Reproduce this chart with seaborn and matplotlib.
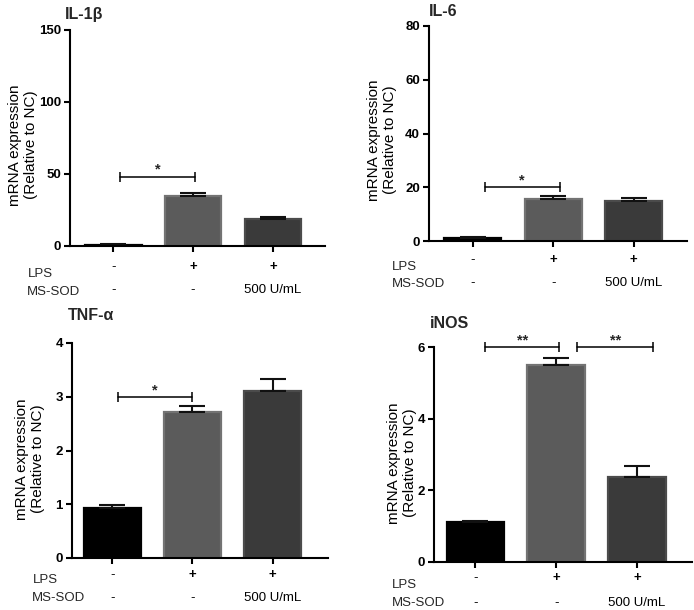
import matplotlib
matplotlib.use("Agg")
import matplotlib.pyplot as plt
import seaborn as sns
import pandas as pd
import numpy as np

sns.set_theme(style="ticks")
plt.rcParams['font.family'] = ['Liberation Sans', 'DejaVu Sans']

groups = ["NC", "LPS", "LPS+MS-SOD"]
lps_row = ["-", "+", "+"]
sod_row = ["-", "-", "500 U/mL"]

il1b_mean = [1.0, 34.7, 18.7]
il1b_err = [0.3, 2.3, 1.6]
il6_mean = [1.2, 15.6, 14.9]
il6_err = [0.2, 1.1, 1.2]
tnf_mean = [0.93, 2.72, 3.11]
tnf_err = [0.05, 0.10, 0.22]
inos_mean = [1.12, 5.51, 2.38]
inos_err = [0.03, 0.19, 0.30]

titles = ["IL-1β", "IL-6", "TNF-α", "iNOS"]
ymax = [150, 80, 4, 6]
ystep = [50, 20, 1, 2]

# significance brackets: (panel, x_start, x_end, y, label)
brackets = [
    (0, 0.09, 1.02, 48, "*"),
    (1, 0.15, 1.08, 20, "*"),
    (2, 0.07, 0.99, 2.99, "*"),
    (3, 0.12, 1.04, 6.0, "**"),
    (3, 1.26, 2.20, 6.0, "**"),
]

fills = ["#000000", "#5b5b5b", "#3a3a3a"]
edges = ["#000000", "#737373", "#4b4b4b"]

W, H = 694, 610
fig = plt.figure(figsize=(W / 100, H / 100), dpi=100)

# axes rectangles in pixels: left, top, right, bottom
rects = [(70, 30, 325, 246), (429, 26, 687, 241), (72, 343, 328, 558), (434, 347, 692, 562)]
xlims = [(-0.54, 2.65), (-0.54, 2.66), (-0.5, 2.69), (-0.51, 2.68)]
ylab_x = [-0.125, -0.124, -0.105, -0.066]
ylab_y = [0.468, 0.47, 0.46, 0.46]
row_off = [(-21, -44), (-19, -42), (-17, -40), (-16, -41)]
lab_pos = [((28, 274), (27, 292)), ((392, 267), (392, 284)), ((33, 580), (32, 598)), ((392, 585), (392, 603))]
title_pos = [(65, 15), (429, 11), (68, 315), (430, 323)]

means = [il1b_mean, il6_mean, tnf_mean, inos_mean]
errs = [il1b_err, il6_err, tnf_err, inos_err]

axes = []
for i in range(4):
    l, t, r, b = rects[i]
    ax = fig.add_axes([l / W, 1 - b / H, (r - l) / W, (b - t) / H])
    axes.append(ax)
    df = pd.DataFrame({"group": groups, "value": means[i]})
    sns.barplot(data=df, x="group", y="value", hue="group", palette=fills,
                order=groups, hue_order=groups, errorbar=None, width=0.71,
                legend=False, ax=ax, saturation=1)
    for p, ec in zip(ax.patches, edges):
        p.set_edgecolor(ec)
        p.set_linewidth(1.6)
    xs = np.arange(len(groups))
    ax.errorbar(xs, means[i], yerr=[np.zeros(3), errs[i]], fmt="none",
                ecolor="#111111", elinewidth=1.5, capsize=9.5, capthick=1.5, zorder=1)
    ax.set_xlim(*xlims[i])
    ax.set_ylim(0, ymax[i])
    ax.set_yticks(np.arange(0, ymax[i] + ystep[i] / 2, ystep[i]))
    ax.set_xticks(xs)
    ax.set_xticklabels([])
    ax.set_xlabel("")
    ax.set_ylabel("mRNA expression\n(Relative to NC)", fontsize=11, color="black")
    ax.yaxis.set_label_coords(ylab_x[i], ylab_y[i])
    sns.despine(ax=ax)
    for s in ["left", "bottom"]:
        ax.spines[s].set_linewidth(1.5)
        ax.spines[s].set_color("black")
    ax.tick_params(axis="both", width=1.5, length=4.5, color="black", direction="out")
    ax.tick_params(axis="y", labelsize=9.5, pad=2)
    for lbl in ax.get_yticklabels():
        lbl.set_fontweight("bold")
        lbl.set_color("black")
    ax.set_facecolor("white")
    for j in range(3):
        ax.annotate(lps_row[j], xy=(j, 0), xycoords=("data", "axes fraction"),
                    xytext=(0, row_off[i][0]), textcoords="offset pixels",
                    ha="center", va="center", fontsize=9.5, color="black",
                    fontweight="bold" if lps_row[j] == "+" else "normal")
        ax.annotate(sod_row[j], xy=(j, 0), xycoords=("data", "axes fraction"),
                    xytext=(0, row_off[i][1]), textcoords="offset pixels",
                    ha="center", va="center", fontsize=9.5, color="black")
    (lx1, ly1), (lx2, ly2) = lab_pos[i]
    fig.text(lx1 / W, 1 - ly1 / H, "LPS", fontsize=9.5, ha="left", va="center")
    fig.text(lx2 / W, 1 - ly2 / H, "MS-SOD", fontsize=9.5, ha="left", va="center")
    tx, ty = title_pos[i]
    fig.text(tx / W, 1 - ty / H, titles[i], fontsize=11.5, fontweight="bold", ha="left", va="center")

for (pi, x0, x1, y, lab) in brackets:
    ax = axes[pi]
    ax.plot([x0, x1], [y, y], color="black", lw=1.1, clip_on=False)
    ax.plot([x0, x1], [y, y], linestyle="none", marker="|", markersize=7, mew=1.1,
            color="black", clip_on=False)
    ax.annotate(lab, xy=((x0 + x1) / 2, y), xycoords="data", xytext=(0, 3),
                textcoords="offset pixels", ha="center", va="baseline",
                fontsize=10.5, fontweight="bold", annotation_clip=False)

fig.savefig("out.png", dpi=100, facecolor="white")
